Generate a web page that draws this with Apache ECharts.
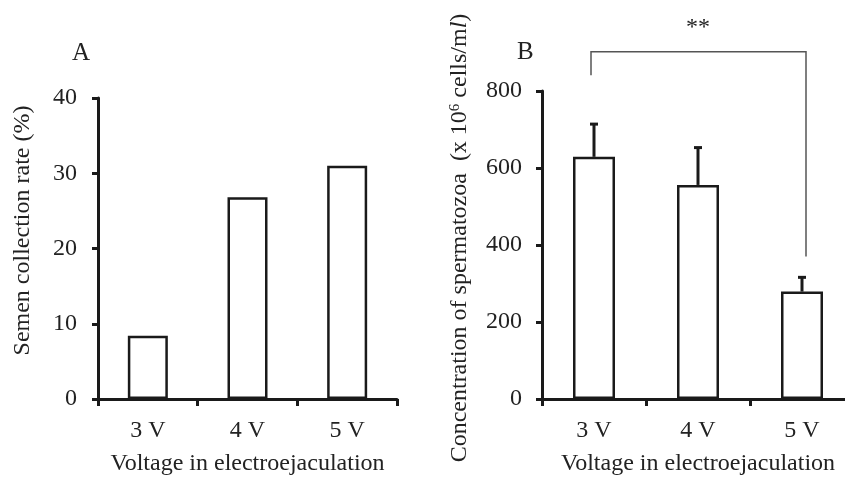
<!DOCTYPE html>
<html>
<head>
<meta charset="utf-8">
<script src="https://cdn.jsdelivr.net/npm/echarts@6/dist/echarts.min.js"></script>
<style>
  html, body { margin: 0; padding: 0; background: #fff; }
  #chart { width: 845px; height: 477px; }
</style>
</head>
<body>
<div id="chart"></div>
<script>
// categories
const voltages = ['3 V', '4 V', '5 V']
// panel A: semen collection rate (%)
const collectionRate = [8.4, 26.8, 31.0]
// panel B: sperm concentration (x 10^6 cells/ml) and upper error
const concentration = [629, 556, 279]
const concentrationErr = [85, 97, 37]
// significance bracket between 3 V and 5 V
const bracketTop = 902
const bracketEnds = [841, 370]
const bracketLabel = '**'

const ink = '#1a1a1a'
const font = 'Liberation Serif, Times New Roman, serif'
const fs = 24

const chart = echarts.init(document.getElementById('chart'))

function yAxisCommon() {
  return {
    type: 'value',
    min: 0,
    nameLocation: 'middle',
    axisLine: { show: true, lineStyle: { color: ink, width: 3 } },
    axisTick: { show: true, length: 6, lineStyle: { color: ink, width: 3 } },
    axisLabel: { color: '#222', fontFamily: font, fontSize: fs, margin: 20 },
    splitLine: { show: false }
  }
}

function xAxisCommon(gridIndex) {
  return {
    type: 'category',
    gridIndex: gridIndex,
    data: voltages,
    name: 'Voltage in electroejaculation',
    nameLocation: 'middle',
    nameGap: 53,
    nameTextStyle: { color: '#222', fontFamily: font, fontSize: fs },
    axisLine: { lineStyle: { color: ink, width: 3 } },
    axisTick: { show: true, length: 7, lineStyle: { color: ink, width: 3 } },
    axisLabel: { color: '#222', fontFamily: font, fontSize: fs, margin: 20 }
  }
}

chart.setOption({
  backgroundColor: '#fff',
  animation: false,
  title: [
    { text: 'A', left: 67, top: 36, textStyle: { fontFamily: font, fontSize: 25, fontWeight: 'normal', color: '#222' } },
    { text: 'B', left: 512, top: 35, textStyle: { fontFamily: font, fontSize: 25, fontWeight: 'normal', color: '#222' } }
  ],
  grid: [
    { left: 98, top: 98, width: 299, bottom: 78, outerBoundsMode: 'none' },
    { left: 542, top: 91, width: 312, bottom: 78, outerBoundsMode: 'none' }
  ],
  xAxis: [xAxisCommon(0), xAxisCommon(1)],
  yAxis: [
    Object.assign(yAxisCommon(), {
      gridIndex: 0,
      max: 40,
      interval: 10,
      axisLabel: { color: '#222', fontFamily: font, fontSize: fs, margin: 21 },
      name: 'Semen collection rate (%)',
      nameGap: 63,
      nameTextStyle: { color: '#222', fontFamily: font, fontSize: fs, padding: [0, 0, 0, 36] }
    }),
    Object.assign(yAxisCommon(), {
      gridIndex: 1,
      max: 800,
      interval: 200,
      name: '{t|Concentration of spermatozoa  (x 10}{s|6}{t| cells/m}{i|l}{t|)}',
      nameGap: 70,
      nameTextStyle: {
        color: '#222', fontFamily: font, fontSize: fs, padding: [0, 0, 0, 14],
        rich: {
          t: { fontFamily: font, fontSize: fs, color: '#222' },
          s: { fontFamily: font, fontSize: 15, color: '#222', verticalAlign: 'top', padding: [0, 0, 9, 0] },
          i: { fontFamily: font, fontSize: fs, fontStyle: 'italic', color: '#222' }
        }
      }
    })
  ],
  series: [
    {
      type: 'bar',
      xAxisIndex: 0,
      yAxisIndex: 0,
      data: collectionRate,
      barWidth: 40,
      itemStyle: { color: '#fff', borderColor: ink, borderWidth: 2.5 }
    },
    {
      type: 'bar',
      xAxisIndex: 1,
      yAxisIndex: 1,
      data: concentration,
      barWidth: 42,
      itemStyle: { color: '#fff', borderColor: ink, borderWidth: 2.5 }
    },
    {
      // upper error bars
      type: 'custom',
      xAxisIndex: 1,
      yAxisIndex: 1,
      data: concentration.map((v, i) => [i, v, v + concentrationErr[i]]),
      renderItem: function (params, api) {
        const base = api.coord([api.value(0), api.value(1)])
        const top = api.coord([api.value(0), api.value(2)])
        const cap = 4
        return {
          type: 'group',
          children: [
            { type: 'line', shape: { x1: base[0], y1: base[1], x2: top[0], y2: top[1] }, style: { stroke: ink, lineWidth: 3 } },
            { type: 'line', shape: { x1: top[0] - cap, y1: top[1], x2: top[0] + cap, y2: top[1] }, style: { stroke: ink, lineWidth: 3 } }
          ]
        }
      },
      z: 3
    },
    {
      // significance bracket
      type: 'custom',
      xAxisIndex: 1,
      yAxisIndex: 1,
      clip: false,
      data: [[0, 2, bracketTop, bracketEnds[0], bracketEnds[1]]],
      renderItem: function (params, api) {
        const l0 = api.coord([api.value(0), api.value(3)])
        const lt = api.coord([api.value(0), api.value(2)])
        const rt = api.coord([api.value(1), api.value(2)])
        const r0 = api.coord([api.value(1), api.value(4)])
        const dx = 4
        return {
          type: 'group',
          children: [
            {
              type: 'polyline',
              shape: { points: [[l0[0] - 3, l0[1]], [lt[0] - 3, lt[1]], [rt[0] + dx, rt[1]], [r0[0] + dx, r0[1]]] },
              style: { stroke: '#555', lineWidth: 1.5, fill: null }
            },
            {
              type: 'text',
              style: {
                text: bracketLabel, x: (lt[0] + rt[0]) / 2, y: lt[1] - 24,
                align: 'center', verticalAlign: 'middle',
                font: fs + 'px ' + font, fill: '#222'
              }
            }
          ]
        }
      }
    }
  ]
})
</script>
</body>
</html>
